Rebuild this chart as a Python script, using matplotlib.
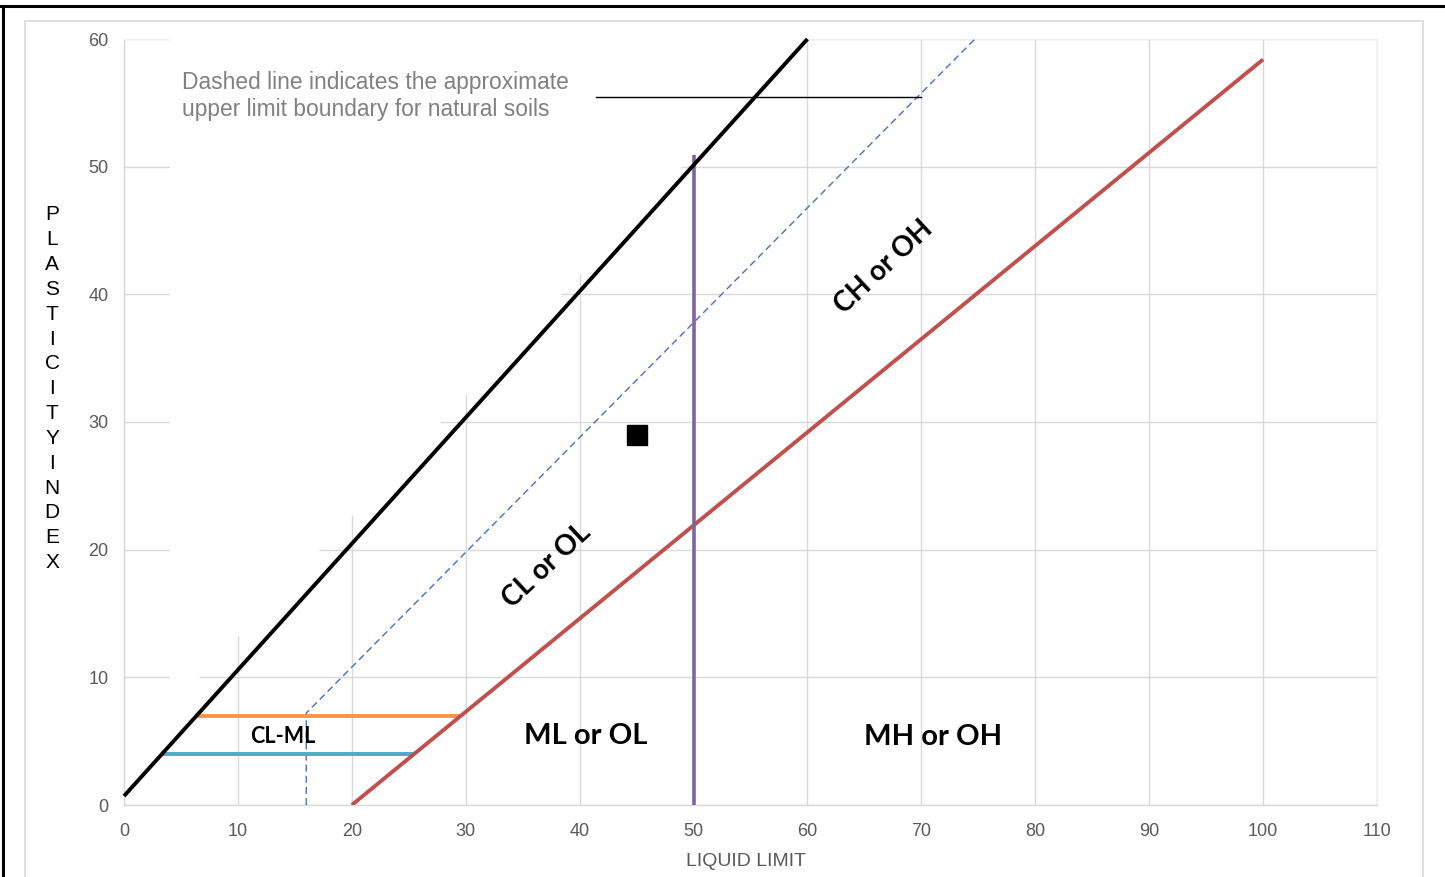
import matplotlib
matplotlib.use("Agg")
import matplotlib.pyplot as plt
from matplotlib.lines import Line2D
from matplotlib.patches import Rectangle, Polygon

# ---- data ----
u_line_x = [0, 60]
u_line_y = [0.7, 60]
a_line_x = [20, 100]
a_line_y = [0, 58.4]
dashed_x = [16, 16, 74.7]
dashed_y = [0, 7.2, 60]
ll50_x = [50, 50]
ll50_y = [0, 50.9]
clml_top_x = [6.2, 29.6]
clml_top_y = [7, 7]
clml_bot_x = [3.4, 25.5]
clml_bot_y = [4, 4]
sample_ll = [45]
sample_pi = [29]
note_x = [41.4, 70.0]
note_y = [55.45, 55.45]
mask_x = [4.0, 4.0, 59.6]
mask_y = [7.5, 60.0, 60.0]

x_ticks = [0, 10, 20, 30, 40, 50, 60, 70, 80, 90, 100, 110]
y_ticks = [0, 10, 20, 30, 40, 50, 60]

regions = [
    ("CL-ML", 13.9, 5.4, 0, 15.5),
    ("ML or OL", 40.5, 5.4, 0, 21),
    ("MH or OH", 71.0, 5.3, 0, 21),
    ("CL or OL", 37.1, 18.7, 43, 20),
    ("CH or OH", 66.7, 42.1, 43, 20),
]
note_text = "Dashed line indicates the approximate\nupper limit boundary for natural soils"
x_title = "LIQUID LIMIT"
y_title = "PLASTICITY INDEX"

W, H = 1445, 877
fig = plt.figure(figsize=(W / 100, H / 100), dpi=100)
fig.patch.set_facecolor("white")

ax = fig.add_axes([124 / W, (H - 805) / H, (1377 - 124) / W, (805 - 39) / H])
ax.set_xlim(0, 110)
ax.set_ylim(0, 60)
ax.set_xticks(x_ticks)
ax.set_yticks(y_ticks)
ax.grid(True, color="#D9D9D9", lw=1.0)
ax.set_axisbelow(True)
for s in ["left", "bottom"]:
    ax.spines[s].set_color("#D9D9D9")
    ax.spines[s].set_linewidth(1.0)
for s in ["top", "right"]:
    ax.spines[s].set_color("#F0F0F0")
    ax.spines[s].set_linewidth(1.0)
ax.tick_params(length=0, labelsize=13, labelcolor="#595959")
ax.tick_params(axis="x", pad=13)
ax.tick_params(axis="y", pad=11)
for lab in ax.get_xticklabels() + ax.get_yticklabels():
    lab.set_fontfamily("Liberation Sans")

# white mask hiding gridlines in the upper-left area
ax.add_patch(Polygon(list(zip(mask_x, mask_y)), closed=True, facecolor="white",
                     edgecolor="none", zorder=2.6))

ax.plot(dashed_x, dashed_y, color="#4472C4", lw=1.0, ls=(0, (5, 3)), zorder=3)
ax.plot(clml_top_x, clml_top_y, color="#F79646", lw=2.8, zorder=3, solid_capstyle="butt")
ax.plot(clml_bot_x, clml_bot_y, color="#4BACC6", lw=2.8, zorder=3, solid_capstyle="butt")
ax.plot(a_line_x, a_line_y, color="#C0504D", lw=2.8, zorder=4, solid_capstyle="butt")
ax.plot(ll50_x, ll50_y, color="#8064A2", lw=2.6, zorder=4, solid_capstyle="butt")
ax.plot(u_line_x, u_line_y, color="black", lw=2.8, zorder=5, solid_capstyle="butt", clip_on=False)
ax.plot(note_x, note_y, color="black", lw=1.0, zorder=5)
ax.plot(sample_ll, sample_pi, ls="none", marker="s", ms=15, color="black", zorder=6)

for txt, x, y, rot, fs in regions:
    ax.text(x, y, txt, rotation=rot, rotation_mode="anchor", ha="center", va="center",
            fontsize=fs, fontweight="bold", fontfamily="Lato", color="black", zorder=7)

ax.text(5.1, 55.55, note_text, ha="left", va="center", fontsize=16.4, color="#808080",
        fontfamily="Liberation Sans", linespacing=1.25, zorder=7)

fig.text(746 / W, 1 - 861 / H, x_title, ha="center", va="center", fontsize=14,
         color="#595959", fontfamily="Liberation Sans")

letters = [c for c in y_title if c != " "]
y0, y1 = 215.0, 562.5
step = (y1 - y0) / (len(letters) - 1)
for i, c in enumerate(letters):
    fig.text(52 / W, 1 - (y0 + i * step) / H, c, ha="center", va="center",
             fontsize=15, color="black", fontfamily="Liberation Sans")

# chart-area border and outer frame
fig.add_artist(Rectangle((25 / W, -0.01), (1423 - 25) / W, (H - 21) / H + 0.01,
                         transform=fig.transFigure, facecolor="none",
                         edgecolor="#D9D9D9", lw=1.2))
fig.add_artist(Line2D([0, 1], [1 - 6 / H, 1 - 6 / H], transform=fig.transFigure,
                      color="black", lw=2.2))
fig.add_artist(Line2D([2.5 / W, 2.5 / W], [0, 1 - 6 / H], transform=fig.transFigure,
                      color="black", lw=2.2))

fig.savefig("out.png", dpi=100, facecolor="white")
